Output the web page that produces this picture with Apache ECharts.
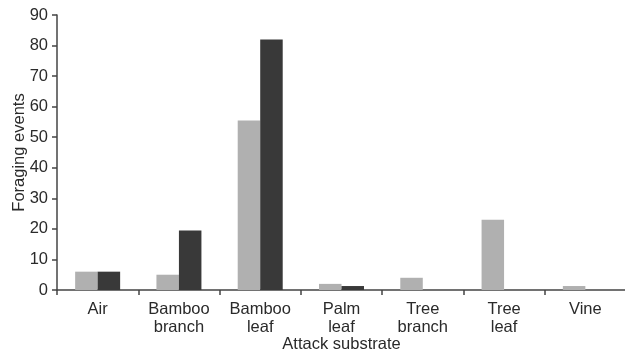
<!DOCTYPE html>
<html>
<head>
<meta charset="utf-8">
<script src="https://cdn.jsdelivr.net/npm/echarts@6/dist/echarts.min.js"></script>
<style>html,body{margin:0;padding:0;background:#fff}#c{width:625px;height:353px}</style>
</head>
<body>
<div id="c"></div>
<script>
var categories = ['Air', 'Bamboo\nbranch', 'Bamboo\nleaf', 'Palm\nleaf', 'Tree\nbranch', 'Tree\nleaf', 'Vine'];
var seriesLight = [6, 5, 55.5, 2, 4, 23, 1.3];
var seriesDark = [6, 19.5, 82, 1.3, 0, 0, 0];
var yTicks = {min: 0, max: 90, interval: 10};

var font = '"Liberation Sans", Arial, sans-serif';
var chart = echarts.init(document.getElementById('c'));
chart.setOption({
  animation: false,
  grid: {left: 57, top: 15, bottom: 63, right: -1, containLabel: false, outerBoundsMode: 'none'},
  xAxis: {
    type: 'category',
    data: categories,
    name: 'Attack substrate',
    nameLocation: 'middle',
    nameGap: 46,
    nameMoveOverlap: false,
    nameTextStyle: {fontFamily: font, fontSize: 16.5, color: '#2a2a2a'},
    axisLine: {lineStyle: {color: '#444', width: 1.5}},
    axisTick: {show: true, length: 5, lineStyle: {color: '#444', width: 1.5}},
    axisLabel: {fontFamily: font, fontSize: 16.5, color: '#2a2a2a', margin: 10, lineHeight: 18, interval: 0}
  },
  yAxis: {
    type: 'value',
    min: yTicks.min, max: yTicks.max, interval: yTicks.interval,
    name: 'Foraging events',
    nameLocation: 'middle',
    nameGap: 29,
    nameMoveOverlap: false,
    nameTextStyle: {fontFamily: font, fontSize: 16.5, color: '#2a2a2a'},
    axisLine: {show: true, lineStyle: {color: '#444', width: 1.5}},
    axisTick: {show: true, length: 5, lineStyle: {color: '#444', width: 1.5}},
    axisLabel: {fontFamily: font, fontSize: 16.5, color: '#2a2a2a', margin: 9},
    splitLine: {show: false}
  },
  series: [
    {name: 'Light', type: 'bar', data: seriesLight, barWidth: 22.5, barGap: '0%',
     itemStyle: {color: '#b0b0b0'}},
    {name: 'Dark', type: 'bar', data: seriesDark, barWidth: 22.5, barGap: '0%',
     itemStyle: {color: '#393939'}}
  ]
});
</script>
</body>
</html>
